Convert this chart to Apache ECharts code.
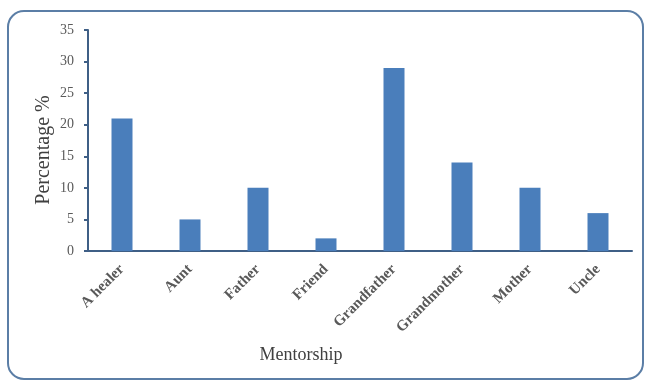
<!DOCTYPE html>
<html>
<head>
<meta charset="utf-8">
<script src="https://cdn.jsdelivr.net/npm/echarts@6/dist/echarts.min.js"></script>
<style>
  html, body { margin: 0; padding: 0; background: #fff; }
  #chart { width: 646px; height: 381px; }
</style>
</head>
<body>
<div id="chart"></div>
<script>
// Mentorship categories and their share (%)
const categories = ['A healer', 'Aunt', 'Father', 'Friend', 'Grandfather', 'Grandmother', 'Mother', 'Uncle'];
const percentages = [21, 5, 10, 2, 29, 14, 10, 6];
const yTicks = { min: 0, max: 35, interval: 5 };

const serif = '"Liberation Serif", "DejaVu Serif", serif';
const axisColor = '#3f5f86';

const chart = echarts.init(document.getElementById('chart'), null, { renderer: 'canvas' });
chart.setOption({
  animation: false,
  backgroundColor: '#ffffff',
  graphic: [
    {
      // rounded frame around the chart
      type: 'rect',
      shape: { x: 8, y: 11, width: 635, height: 368, r: 16 },
      style: { fill: 'none', stroke: '#5b7ea6', lineWidth: 2 },
      silent: true
    },
    {
      type: 'text',
      x: 301, y: 355,
      style: {
        text: 'Mentorship', font: '18px ' + serif, fill: '#404040',
        align: 'center', verticalAlign: 'middle'
      },
      silent: true
    },
    {
      type: 'text',
      x: 44, y: 150,
      rotation: Math.PI / 2,
      style: {
        text: 'Percentage %', font: '20px ' + serif, fill: '#404040',
        align: 'center', verticalAlign: 'middle'
      },
      silent: true
    }
  ],
  grid: { left: 88, right: 14, top: 30, bottom: 130 },
  xAxis: {
    type: 'category',
    data: categories,
    axisLine: { lineStyle: { color: axisColor, width: 2 } },
    axisTick: { alignWithLabel: true, length: 4, lineStyle: { color: axisColor, width: 2 } },
    axisLabel: {
      rotate: 45,
      margin: 16,
      fontFamily: serif,
      fontWeight: 'bold',
      fontSize: 15,
      color: '#595959',
      interval: 0
    }
  },
  yAxis: {
    type: 'value',
    min: yTicks.min,
    max: yTicks.max,
    interval: yTicks.interval,
    axisLine: { show: true, lineStyle: { color: axisColor, width: 2 } },
    axisTick: { show: true, length: 4, lineStyle: { color: axisColor, width: 2 } },
    axisLabel: { fontFamily: serif, fontSize: 14, color: '#595959', margin: 14 },
    splitLine: { show: false }
  },
  series: [{
    type: 'bar',
    data: percentages,
    barWidth: 21,
    itemStyle: { color: '#4a7ebb' }
  }]
});
</script>
</body>
</html>
